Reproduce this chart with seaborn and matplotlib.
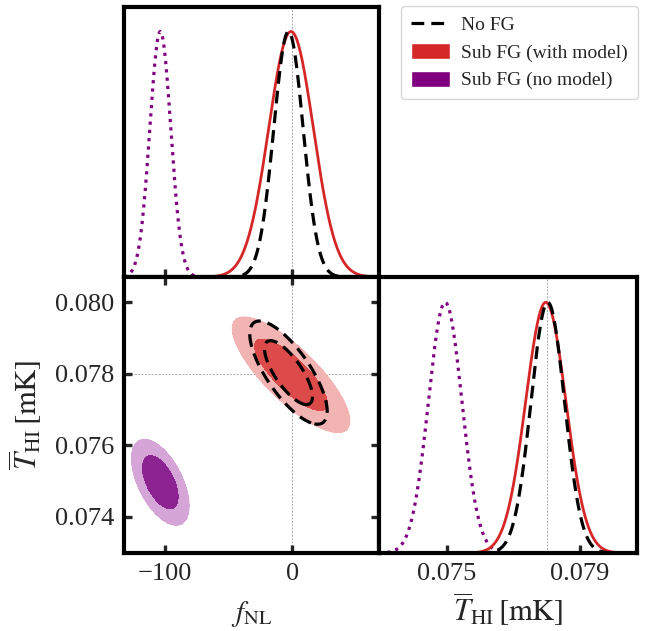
import numpy as np
import pandas as pd
import matplotlib
matplotlib.use("Agg")
import matplotlib.pyplot as plt
from matplotlib.lines import Line2D
from matplotlib.patches import Patch
import seaborn as sns

# --- Gaussian approximations of the posteriors ---
runs = ["No FG", "Sub FG (with model)", "Sub FG (no model)"]
colors = ["black", "#d62728", "#800080"]
fnl_mean = [-3.0, -1.0, -103.5]
thi_mean = [0.07803, 0.07797, 0.07496]
# widths of the 1D marginals
fnl_sigma = [11.5, 17.5, 8.2]
thi_sigma = [0.00050, 0.00060, 0.00050]
# widths / correlation of the 2D contours
fnl_sigma_2d = [12.4, 18.8, 9.2]
thi_sigma_2d = [0.00059, 0.00066, 0.00049]
corr = [-0.75, -0.80, -0.55]

fid_fnl = 0.0
fid_thi = 0.0780

fnl_lim = (-132, 68)
thi_lim = (0.07298, 0.08070)
fnl_ticks = [-100, 0]
thi_ticks = [0.074, 0.076, 0.078, 0.080]
thi_xticks = [0.075, 0.079]

sns.set_theme(style="ticks")
plt.rcParams["font.family"] = ["Liberation Serif", "DejaVu Serif"]
plt.rcParams["mathtext.fontset"] = "stix"

fig = plt.figure(figsize=(6.49, 6.31), dpi=100)
ax_top = fig.add_axes([0.191, 0.561, 0.393, 0.428])
ax_2d = fig.add_axes([0.191, 0.1236, 0.393, 0.437])
ax_rt = fig.add_axes([0.584, 0.1236, 0.3975, 0.437])

line_styles = {"No FG": (0, (4, 2.2)), "Sub FG (with model)": "-", "Sub FG (no model)": (0, (1, 1.6))}
line_widths = {"No FG": 2.3, "Sub FG (with model)": 2.0, "Sub FG (no model)": 2.3}

# 1D marginals
xf = np.linspace(*fnl_lim, 600)
xt = np.linspace(*thi_lim, 600)
rows_f, rows_t = [], []
for name, m, s, mt, st in zip(runs, fnl_mean, fnl_sigma, thi_mean, thi_sigma):
    rows_f.append(pd.DataFrame({"x": xf, "p": np.exp(-0.5 * ((xf - m) / s) ** 2), "run": name}))
    rows_t.append(pd.DataFrame({"x": xt, "p": np.exp(-0.5 * ((xt - mt) / st) ** 2), "run": name}))
df_f = pd.concat(rows_f)
df_t = pd.concat(rows_t)

draw_order = ["Sub FG (no model)", "Sub FG (with model)", "No FG"]
for name in draw_order:
    c = colors[runs.index(name)]
    sns.lineplot(data=df_f[df_f.run == name], x="x", y="p", ax=ax_top, color=c,
                 linestyle=line_styles[name], linewidth=line_widths[name], legend=False)
    sns.lineplot(data=df_t[df_t.run == name], x="x", y="p", ax=ax_rt, color=c,
                 linestyle=line_styles[name], linewidth=line_widths[name], legend=False)

# 2D contours (68% / 95%)
gx, gy = np.meshgrid(np.linspace(*fnl_lim, 400), np.linspace(*thi_lim, 400))
lev = [np.exp(-5.99 / 2), np.exp(-2.30 / 2), 1.01]
fills = {"Sub FG (with model)": ["#f2b3b3", "#dc4a4a"], "Sub FG (no model)": ["#d4a5d6", "#8b2390"]}
for name in ["Sub FG (no model)", "Sub FG (with model)", "No FG"]:
    i = runs.index(name)
    u = (gx - fnl_mean[i]) / fnl_sigma_2d[i]
    v = (gy - thi_mean[i]) / thi_sigma_2d[i]
    r = corr[i]
    z = np.exp(-(u ** 2 - 2 * r * u * v + v ** 2) / (2 * (1 - r ** 2)))
    if name in fills:
        ax_2d.contourf(gx, gy, z, levels=lev, colors=fills[name])
        ax_2d.contour(gx, gy, z, levels=lev[:1], colors=[fills[name][0]], linewidths=0.8)
    else:
        ax_2d.contour(gx, gy, z, levels=lev[:2], colors="black", linewidths=2.3,
                      linestyles=[(0, (4, 2.2))])

# fiducial lines
grid_kw = dict(color="#aaaaaa", linestyle=(0, (2, 1.5)), linewidth=0.7, zorder=0)
ax_top.axvline(fid_fnl, **grid_kw)
ax_2d.axvline(fid_fnl, **grid_kw)
ax_2d.axhline(fid_thi, **grid_kw)
ax_rt.axvline(fid_thi, **grid_kw)

# limits & ticks
ax_top.set_xlim(fnl_lim)
ax_top.set_ylim(0, 1.1)
ax_2d.set_xlim(fnl_lim)
ax_2d.set_ylim(thi_lim)
ax_rt.set_xlim(thi_lim)
ax_rt.set_ylim(0, 1.1)

tick_kw = dict(direction="in", length=6, width=2.4, labelsize=19, pad=7)
ax_top.set_xticks(fnl_ticks)
ax_top.set_yticks([])
ax_top.tick_params(axis="x", bottom=True, top=False, labelbottom=False, **tick_kw)

ax_2d.set_xticks(fnl_ticks)
ax_2d.set_yticks(thi_ticks)
ax_2d.set_yticklabels([f"{t:.3f}" for t in thi_ticks])
ax_2d.tick_params(axis="both", bottom=True, top=True, left=True, right=True, **tick_kw)

ax_rt.set_yticks([])
ax_rt.set_xticks(thi_xticks)
ax_rt.set_xticklabels([f"{t:.3f}" for t in thi_xticks])
ax_rt.tick_params(axis="x", bottom=True, **tick_kw)

for a in [ax_top, ax_2d, ax_rt]:
    for sp in a.spines.values():
        sp.set_linewidth(3)
        sp.set_color("black")
    a.set_xlabel("")
    a.set_ylabel("")

ax_2d.set_xlabel(r"$f_{\rm NL}$", fontsize=21, labelpad=10)
ax_2d.set_ylabel(r"$\overline{T}_{\rm HI}\,[{\rm mK}]$", fontsize=22, labelpad=8)
ax_rt.set_xlabel(r"$\overline{T}_{\rm HI}\,[{\rm mK}]$", fontsize=22, labelpad=4)

handles = [Line2D([0], [0], color="black", linestyle=(0, (4, 2.2)), linewidth=2.3),
           Patch(facecolor=colors[1]), Patch(facecolor=colors[2])]
fig.legend(handles, runs, loc="upper left", bbox_to_anchor=(0.618, 0.991), fontsize=14,
           frameon=True, fancybox=True, edgecolor="#cccccc", handlelength=2.0,
           handleheight=0.9, labelspacing=0.45, borderpad=0.5, handletextpad=0.6,
           borderaxespad=0)

fig.savefig("out.png", dpi=100)
